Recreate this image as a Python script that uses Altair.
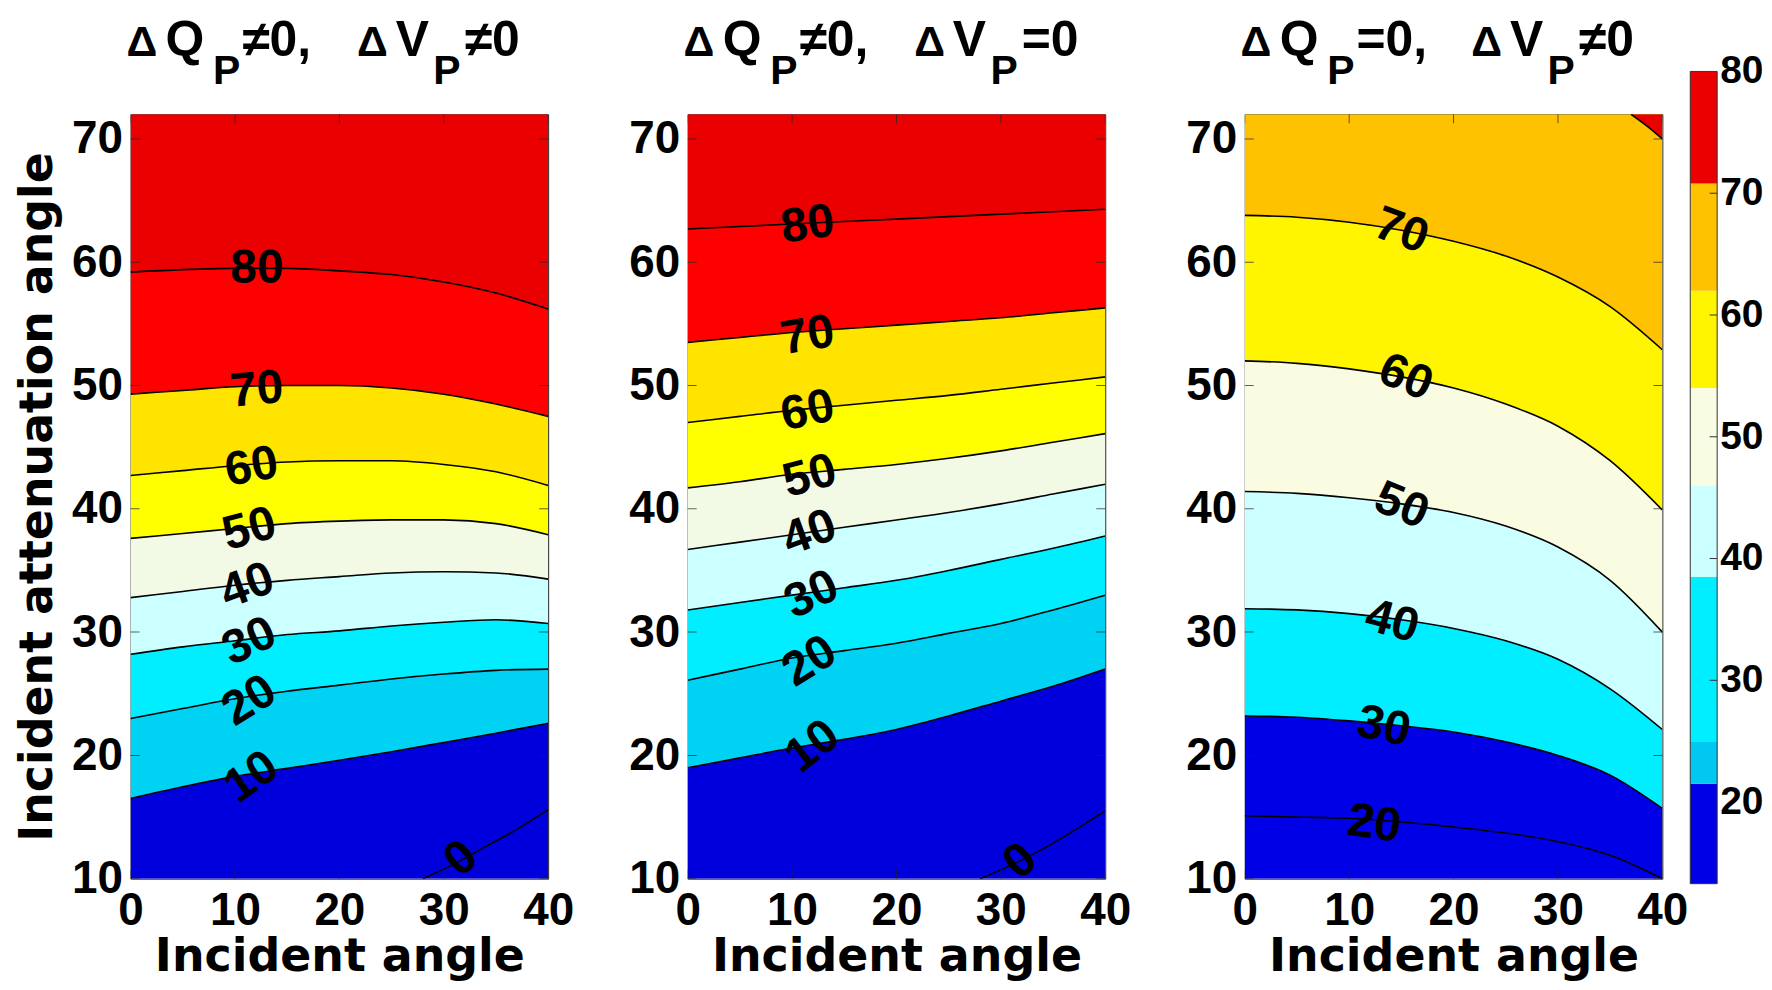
import altair as alt
import pandas as pd

# ---------------- values ----------------
X = [0, 5, 10, 15, 20, 25, 30, 35, 40]
X_DOMAIN = [0, 40]
Y_DOMAIN = [10, 72]
X_TICKS = [0, 10, 20, 30, 40]
Y_TICKS = [10, 20, 30, 40, 50, 60, 70]

# Panel 1: dQp != 0, dVp != 0  (contour y at each X)
P1_L10 = [16.5, 17.45, 18.3, 18.95, 19.6, 20.3, 21.05, 21.8, 22.6]
P1_L20 = [23.0, 23.8, 24.6, 25.2, 25.7, 26.2, 26.6, 26.9, 27.0]
P1_L30 = [28.2, 28.8, 29.3, 29.8, 30.1, 30.5, 30.8, 31.0, 30.7]
P1_L40 = [32.8, 33.3, 33.8, 34.2, 34.5, 34.8, 34.9, 34.8, 34.3]
P1_L50 = [37.6, 38.0, 38.4, 38.8, 39.0, 39.1, 39.1, 38.8, 37.9]
P1_L60 = [42.7, 43.1, 43.5, 43.8, 43.9, 43.9, 43.6, 43.0, 41.9]
P1_L70 = [49.3, 49.6, 49.9, 50.0, 50.0, 49.8, 49.3, 48.5, 47.5]
P1_L80 = [59.2, 59.4, 59.5, 59.5, 59.3, 59.0, 58.4, 57.5, 56.2]
P1_L0_X = [28, 31, 34, 37, 40]
P1_L0_Y = [10.0, 11.2, 12.6, 14.0, 15.6]
P1_LAB = ["0", "10", "20", "30", "40", "50", "60", "70", "80"]
P1_LAB_X = [31.7, 11.6, 11.4, 11.4, 11.2, 11.4, 11.6, 12.1, 12.1]
P1_LAB_Y = [11.6, 18.2, 24.4, 29.2, 33.7, 38.3, 43.35, 49.6, 59.45]
P1_LAB_ANG = [320, 325, 328, 335, 340, 345, 350, 355, 0]

# Panel 2: dQp != 0, dVp = 0
P2_L10 = [19.0, 19.8, 20.6, 21.3, 22.1, 23.2, 24.4, 25.6, 27.0]
P2_L20 = [26.1, 27.0, 27.9, 28.5, 29.1, 29.9, 30.7, 31.8, 33.0]
P2_L30 = [31.8, 32.4, 33.0, 33.6, 34.2, 35.0, 35.9, 36.8, 37.8]
P2_L40 = [36.7, 37.3, 37.9, 38.5, 39.1, 39.7, 40.4, 41.2, 42.0]
P2_L50 = [41.7, 42.2, 42.8, 43.2, 43.6, 44.1, 44.7, 45.4, 46.1]
P2_L60 = [47.0, 47.5, 48.0, 48.4, 48.8, 49.2, 49.7, 50.2, 50.7]
P2_L70 = [53.5, 53.9, 54.3, 54.6, 54.9, 55.2, 55.5, 55.9, 56.3]
P2_L80 = [62.7, 62.9, 63.1, 63.3, 63.5, 63.7, 63.9, 64.1, 64.3]
P2_L0_X = [28, 31, 34, 37, 40]
P2_L0_Y = [10.0, 11.1, 12.4, 13.9, 15.5]
P2_LAB = ["0", "10", "20", "30", "40", "50", "60", "70", "80"]
P2_LAB_X = [31.9, 12.0, 11.7, 11.9, 11.7, 11.7, 11.5, 11.5, 11.5]
P2_LAB_Y = [11.4, 20.7, 27.6, 33.0, 38.0, 42.6, 47.9, 54.0, 63.0]
P2_LAB_ANG = [320, 322, 328, 335, 340, 345, 348, 350, 352]

# Panel 3: dQp = 0, dVp != 0
P3_L20 = [15.1, 15.0, 14.9, 14.6, 14.2, 13.7, 13.0, 11.9, 10.0]
P3_L30 = [23.2, 23.1, 22.8, 22.4, 21.9, 21.1, 20.0, 18.4, 15.7]
P3_L40 = [31.9, 31.8, 31.5, 31.0, 30.3, 29.3, 27.8, 25.4, 22.1]
P3_L50 = [41.4, 41.25, 40.9, 40.4, 39.7, 38.6, 36.9, 34.2, 30.0]
P3_L60 = [52.0, 51.8, 51.35, 50.7, 49.8, 48.5, 46.7, 43.9, 39.9]
P3_L70 = [63.8, 63.65, 63.25, 62.6, 61.7, 60.5, 58.8, 56.4, 52.9]
P3_L80_X = [37.0, 38.6, 40.0]
P3_L80_Y = [72.0, 71.0, 70.0]
P3_LAB = ["20", "30", "40", "50", "60", "70"]
P3_LAB_X = [12.4, 13.3, 14.1, 15.0, 15.4, 15.0]
P3_LAB_Y = [14.4, 22.3, 30.8, 40.2, 50.6, 62.5]
P3_LAB_ANG = [8, 12, 15, 22, 22, 20]

# Colour bar
CB_RANGE = [13.3, 80.0]
CB_EDGES = [13.3, 21.5, 25.0, 38.5, 46.0, 54.0, 62.0, 70.8, 80.0]
CB_TICKS = [20, 30, 40, 50, 60, 70, 80]
CB_INNER_TICKS = [30, 40, 50, 60, 70]

# ---------------- styles / layout ----------------
P12_COLORS = ["#0000DC", "#00D2F4", "#00EEFF", "#CCFFFF", "#F2FAE6",
              "#FFFF00", "#FFE400", "#FF0000", "#EA0000"]
P3_COLORS = ["#0000E6", "#0000E6", "#00EEFF", "#CCFFFF", "#F9FCE0",
             "#FFF500", "#FFC200"]
P3_CORNER = "#EA0000"
CB_COLORS = ["#0000E6", "#00C8F0", "#00EEFF", "#CCFFFF", "#F8FCE2",
             "#FFF500", "#FFC200", "#EA0000"]

FONT = "Liberation Sans"
TITLE_FONT = "DejaVu Sans"
PANEL_W, PANEL_H = 419, 767
PANEL_GAP = 140
# colour bar placement relative to the third panel's frame (pixels)
CB_LEFT, CB_W, CB_TOP, CB_BOTTOM = 447, 27, -43, 772

# title layout (x in data units, baselines in data units above the frame)
T_DELTA_X = [-0.4, 21.7]
T_MAIN_X = [3.35, 10.7, 25.4, 32.0]
T_SUB_X = [7.9, 29.0]
T_MAIN_Y = 76.69
T_SUB_Y = 74.47

XS = alt.Scale(domain=X_DOMAIN, nice=False, zero=False)
YS = alt.Scale(domain=Y_DOMAIN, nice=False, zero=False)


def xq(field, scale=XS):
    return alt.X(field, type="quantitative", scale=scale, axis=None)


def yq(field, scale=YS):
    return alt.Y(field, type="quantitative", scale=scale, axis=None)


def title_text(xs, y, texts, size):
    df = pd.DataFrame({"x": xs, "y": [y] * len(xs), "t": texts})
    return alt.Chart(df).mark_text(
        font=FONT, fontWeight="bold", fontSize=size, color="black",
        align="left", baseline="alphabetic").encode(
        x=xq("x"), y=yq("y"), text="t:N")


def make_layers(lines, colors, part_x, part_y, corner, lab, lab_x, lab_y,
                lab_ang, syms, ytitle):
    bounds = [[Y_DOMAIN[0]] * len(X)] + lines + [[Y_DOMAIN[1]] * len(X)]
    names, rows = [], []
    for i in range(len(bounds) - 1):
        nm = f"b{i:02d}"
        names.append(nm)
        for xv, lo, hi in zip(X, bounds[i], bounds[i + 1]):
            rows.append(dict(x=xv, lo=lo, hi=hi, band=nm))
    bands = pd.DataFrame(rows)

    if ytitle:
        yaxis = alt.Axis(values=Y_TICKS, labelPadding=8, titlePadding=10,
                         title=ytitle)
    else:
        yaxis = alt.Axis(values=Y_TICKS, labelPadding=8, title=None)
    areas = alt.Chart(bands).mark_area(interpolate="monotone", clip=True).encode(
        x=alt.X("x:Q", scale=XS,
                axis=alt.Axis(values=X_TICKS, title="Incident angle",
                              labelPadding=10, titlePadding=1)),
        y=alt.Y("lo:Q", scale=YS, axis=yaxis),
        y2="hi:Q",
        color=alt.Color("band:N", scale=alt.Scale(domain=names, range=colors),
                        legend=None),
    )
    layers = [areas]

    if corner:
        cdf = pd.DataFrame({"x": part_x, "lo": part_y,
                            "hi": [Y_DOMAIN[1]] * len(part_x)})
        layers.append(alt.Chart(cdf).mark_area(
            interpolate="monotone", clip=True, color=corner).encode(
            x=xq("x"), y=yq("lo"), y2="hi:Q"))

    lrows = []
    for k, ln in enumerate(lines):
        for xv, yv in zip(X, ln):
            lrows.append(dict(x=xv, y=yv, lvl=f"l{k}"))
    for xv, yv in zip(part_x, part_y):
        lrows.append(dict(x=xv, y=yv, lvl="part"))
    ldf = pd.DataFrame(lrows)
    layers.append(alt.Chart(ldf).mark_line(
        color="black", strokeWidth=1.6, interpolate="monotone", clip=True
    ).encode(x=xq("x"), y=yq("y"), detail="lvl:N"))

    labdf = pd.DataFrame({"x": lab_x, "y": lab_y, "t": lab, "a": lab_ang})
    layers.append(alt.Chart(labdf).mark_text(
        font=FONT, fontWeight="bold", fontSize=48, color="black",
        align="center", baseline="middle").encode(
        x=xq("x"), y=yq("y"), text="t:N",
        angle=alt.Angle("a:Q", scale=None)))

    # inward ticks on all four sides
    xt = pd.DataFrame({"t": X_TICKS})
    yt = pd.DataFrame({"t": Y_TICKS})
    for yd in Y_DOMAIN:
        layers.append(alt.Chart(xt).mark_tick(
            orient="vertical", size=18, thickness=1, color="#222",
            clip=True).encode(
            x=xq("t"), y=alt.YDatum(yd, scale=YS, axis=None)))
    for xd in X_DOMAIN:
        layers.append(alt.Chart(yt).mark_tick(
            orient="horizontal", size=18, thickness=1, color="#222",
            clip=True).encode(
            y=yq("t"), x=alt.XDatum(xd, scale=XS, axis=None)))

    # title  "Δ Q_P ≠0,  Δ V_P ≠0"
    layers.append(title_text(T_DELTA_X, T_MAIN_Y, ["Δ", "Δ"], 43))
    layers.append(title_text(T_MAIN_X, T_MAIN_Y,
                             ["Q", syms[0] + "0,", "V", syms[1] + "0"], 50))
    layers.append(title_text(T_SUB_X, T_SUB_Y, ["P", "P"], 41))
    return layers


# ---------------- colour bar layers (drawn beside panel 3) ----------------
cb_d0 = -CB_LEFT / CB_W
CBX = alt.Scale(domain=[cb_d0, cb_d0 + PANEL_W / CB_W], nice=False, zero=False)
cb_slope = (CB_BOTTOM - CB_TOP) / (CB_RANGE[1] - CB_RANGE[0])
cb_lo = CB_RANGE[0] + (CB_BOTTOM - PANEL_H) / cb_slope
CBY = alt.Scale(domain=[cb_lo, cb_lo + PANEL_H / cb_slope], nice=False, zero=False)
cb_names = [f"c{i}" for i in range(len(CB_COLORS))]
cbdf = pd.DataFrame({"lo": CB_EDGES[:-1], "hi": CB_EDGES[1:], "band": cb_names})
cb_rect = alt.Chart(cbdf).mark_rect().encode(
    x=alt.XDatum(0, scale=CBX, axis=None), x2=alt.X2Datum(1),
    y=alt.Y("lo:Q", scale=CBY, axis=None), y2="hi:Q",
    color=alt.Color("band:N", scale=alt.Scale(domain=cb_names, range=CB_COLORS),
                    legend=None))
cb_frame = alt.Chart(pd.DataFrame({"lo": [CB_RANGE[0]], "hi": [CB_RANGE[1]]})).mark_rect(
    fillOpacity=0, stroke="#333", strokeWidth=1).encode(
    x=alt.XDatum(0, scale=CBX, axis=None), x2=alt.X2Datum(1),
    y=alt.Y("lo:Q", scale=CBY, axis=None), y2="hi:Q")
cb_ticks = alt.Chart(pd.DataFrame({"t": CB_INNER_TICKS})).mark_rule(
    color="#333", strokeWidth=1).encode(
    x=alt.XDatum(0.72, scale=CBX, axis=None), x2=alt.X2Datum(1),
    y=alt.Y("t:Q", scale=CBY, axis=None))
cb_labels = alt.Chart(pd.DataFrame({"t": CB_TICKS})).mark_text(
    font=FONT, fontWeight="bold", fontSize=39, color="black",
    align="left", baseline="middle", dx=3).encode(
    x=alt.XDatum(1, scale=CBX, axis=None),
    y=alt.Y("t:Q", scale=CBY, axis=None), text="t:Q")

p1 = alt.layer(*make_layers(
    [P1_L10, P1_L20, P1_L30, P1_L40, P1_L50, P1_L60, P1_L70, P1_L80],
    P12_COLORS, P1_L0_X, P1_L0_Y, None,
    P1_LAB, P1_LAB_X, P1_LAB_Y, P1_LAB_ANG, ["≠", "≠"],
    "Incident attenuation angle")).resolve_axis(
    x="independent", y="independent").properties(width=PANEL_W, height=PANEL_H)
p2 = alt.layer(*make_layers(
    [P2_L10, P2_L20, P2_L30, P2_L40, P2_L50, P2_L60, P2_L70, P2_L80],
    P12_COLORS, P2_L0_X, P2_L0_Y, None,
    P2_LAB, P2_LAB_X, P2_LAB_Y, P2_LAB_ANG, ["≠", "="], None)).resolve_axis(
    x="independent", y="independent").properties(width=PANEL_W, height=PANEL_H)
p3 = alt.layer(*make_layers(
    [P3_L20, P3_L30, P3_L40, P3_L50, P3_L60, P3_L70],
    P3_COLORS, P3_L80_X, P3_L80_Y, P3_CORNER,
    P3_LAB, P3_LAB_X, P3_LAB_Y, P3_LAB_ANG, ["=", "≠"], None),
    cb_rect, cb_frame, cb_ticks, cb_labels).resolve_scale(
    x="independent", y="independent", color="independent").resolve_axis(
    x="independent", y="independent").properties(width=PANEL_W, height=PANEL_H)

chart = alt.hconcat(p1, p2, p3, spacing=PANEL_GAP, bounds="flush").resolve_scale(
    x="independent", y="independent", color="independent"
).properties(
    padding={"left": 6, "top": 6, "right": 0, "bottom": 0},
    background="white",
).configure_view(
    stroke="#222", strokeWidth=1
).configure_axis(
    labelFont=FONT, labelFontWeight="bold", labelFontSize=46, labelColor="black",
    titleFont=TITLE_FONT, titleFontWeight="bold", titleFontSize=46,
    titleColor="black", ticks=False, domain=False, grid=False,
    labelFlush=False, labelOverlap=False,
)

chart.save("out.html", embed_options={"renderer": "svg", "actions": False})
